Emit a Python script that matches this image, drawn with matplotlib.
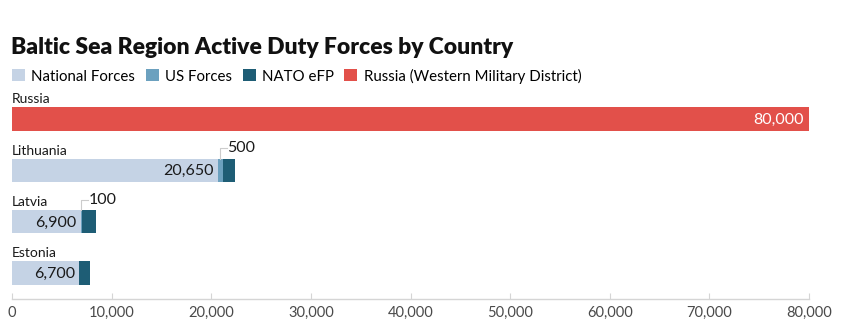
import matplotlib
matplotlib.use("Agg")
import matplotlib.pyplot as plt
from matplotlib.patches import Patch

plt.rcParams['font.family'] = ['Lato', 'DejaVu Sans']

countries = ["Russia", "Lithuania", "Latvia", "Estonia"]
national = [0, 20650, 6900, 6700]
us_forces = [0, 500, 100, 0]
nato_efp = [0, 1250, 1400, 1100]
russia_wmd = [80000, 0, 0, 0]
series_names = ["National Forces", "US Forces", "NATO eFP", "Russia (Western Military District)"]
colors = ["#c5d3e5", "#6ca1bf", "#1e5d75", "#e2504a"]
xticks = [0, 10000, 20000, 30000, 40000, 50000, 60000, 70000, 80000]

W, H = 850, 329
fig = plt.figure(figsize=(W / 100, H / 100), dpi=100)
left, right, top, bottom = 12, 809, 95, 299
ax = fig.add_axes([left / W, 1 - bottom / H, (right - left) / W, (bottom - top) / H])

ypos = list(range(len(countries)))
h = 0.46
ax.barh(ypos, national, height=h, color=colors[0])
lefts = national[:]
ax.barh(ypos, us_forces, left=lefts, height=h, color=colors[1])
lefts = [a + b for a, b in zip(lefts, us_forces)]
ax.barh(ypos, nato_efp, left=lefts, height=h, color=colors[2])
ax.barh(ypos, russia_wmd, height=h, color=colors[3])

ax.set_xlim(0, 80000)
ax.set_ylim(3.51, -0.47)

for i, c in enumerate(countries):
    ax.text(0, i - h / 2 - 0.04, c, ha='left', va='bottom', fontsize=10, color='#1a1a1a')

# value labels
for i in range(len(countries)):
    if russia_wmd[i] > 0:
        ax.text(russia_wmd[i] - 500, i + 0.02, f"{russia_wmd[i]:,}", ha='right', va='center',
                fontsize=11.5, color='white')
    if national[i] > 0:
        ax.text(national[i] - 400, i + 0.02, f"{national[i]:,}", ha='right', va='center',
                fontsize=11.5, color='#1a1a1a')
    if us_forces[i] > 0:
        xm = national[i] + us_forces[i] / 2
        y0 = i - h / 2
        y1 = y0 - 0.2
        ax.plot([xm, xm, xm + 700], [y0, y1, y1], color='#cccccc', lw=0.8, clip_on=False)
        ax.text(xm + 700, y1, f"{us_forces[i]:,}", ha='left', va='center', fontsize=11.5, color='#1a1a1a')

for s in ['top', 'right', 'left']:
    ax.spines[s].set_visible(False)
ax.spines['bottom'].set_color('#d5d5d5')
ax.spines['bottom'].set_linewidth(1.0)
ax.set_yticks([])
ax.set_xticks(xticks)
ax.set_xticklabels([f"{t:,}" for t in xticks])
ax.tick_params(axis='x', direction='in', length=4, color='#d5d5d5', labelsize=10.5,
               labelcolor='#4a4a4a', pad=5)

fig.text(11 / W, 1 - 48 / H, "Baltic Sea Region Active Duty Forces by Country", fontsize=16.5,
         fontweight='heavy', ha='left', va='center', color='#111111')

handles = [Patch(facecolor=c, edgecolor='none') for c in colors]
fig.legend(handles, series_names, loc='center left', bbox_to_anchor=(12 / W, 1 - 76 / H), ncol=4,
           frameon=False, fontsize=10.8, handlelength=0.87, handleheight=0.87, handletextpad=0.42,
           columnspacing=0.7, borderaxespad=0, borderpad=0)

fig.savefig("out.png", dpi=100)
